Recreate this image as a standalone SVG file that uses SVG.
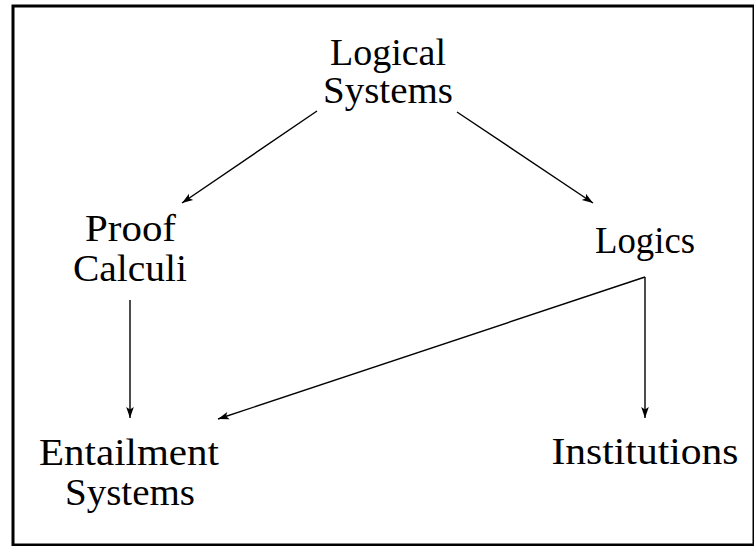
<svg xmlns="http://www.w3.org/2000/svg" width="754" height="546" viewBox="0 0 754 546">
  <style>
    .label { font-family: "Liberation Serif", "Times New Roman", serif; font-size: 37px; fill: #000; text-anchor: middle; }
    .edge { stroke: #000; stroke-width: 1.4; fill: none; marker-end: url(#head); }
    .frame { fill: none; stroke: #000; stroke-width: 3; }
  </style>
  <defs>
    <marker id="head" markerUnits="userSpaceOnUse" markerWidth="14" markerHeight="10" viewBox="-12 -5 14 10" refX="0" refY="0" orient="auto">
      <path d="M0,0 L-11,-3.8 L-8.5,0 L-11,3.8 Z" fill="#000"/>
    </marker>
  </defs>

  <rect class="frame" x="13" y="6" width="741" height="539"/>

  <g id="connectors">
    <line class="edge" x1="317" y1="111" x2="182" y2="203"/>
    <line class="edge" x1="457" y1="112" x2="593" y2="203"/>
    <line class="edge" x1="130" y1="300" x2="130" y2="418"/>
    <line class="edge" x1="645" y1="277" x2="645" y2="418"/>
    <line class="edge" x1="645" y1="277" x2="218" y2="419"/>
  </g>

  <g id="logical-systems">
    <text class="label" x="388" y="65" textLength="116" lengthAdjust="spacingAndGlyphs">Logical</text>
    <text class="label" x="388" y="103" textLength="130" lengthAdjust="spacingAndGlyphs">Systems</text>
  </g>

  <g id="proof-calculi">
    <text class="label" x="130.5" y="241" textLength="91" lengthAdjust="spacingAndGlyphs">Proof</text>
    <text class="label" x="130" y="281" textLength="114" lengthAdjust="spacingAndGlyphs">Calculi</text>
  </g>

  <g id="logics">
    <text class="label" x="645" y="253" textLength="100" lengthAdjust="spacingAndGlyphs">Logics</text>
  </g>

  <g id="entailment-systems">
    <text class="label" x="129" y="465" textLength="180" lengthAdjust="spacingAndGlyphs">Entailment</text>
    <text class="label" x="130" y="505" textLength="130" lengthAdjust="spacingAndGlyphs">Systems</text>
  </g>

  <g id="institutions">
    <text class="label" x="645" y="464" textLength="187" lengthAdjust="spacingAndGlyphs">Institutions</text>
  </g>
</svg>
